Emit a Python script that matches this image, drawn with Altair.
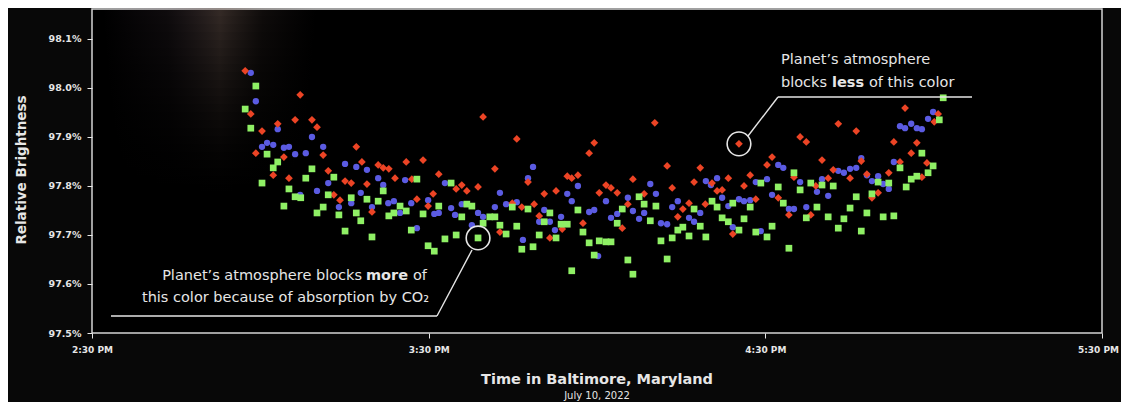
import altair as alt
import pandas as pd

# ---------------- data (minutes after 2:30 PM, relative brightness in %) ----------------
red_time = [27.3, 28.3, 29.2, 30.3, 32.3, 33.1, 34.2, 35.1, 36.2, 37.1,
            39.2, 40.1, 41.2, 42.1, 43.1, 44.2, 45.1, 46.2, 47.1, 48.1,
            49.0, 49.9, 51.0, 51.9, 52.9, 54.0, 56.0, 57.0, 57.9, 59.0,
            59.9, 60.8, 61.8, 64.9, 65.9, 66.8, 68.8, 69.7, 71.8, 72.7,
            74.9, 75.7, 76.6, 77.7, 78.8, 79.7, 80.6, 81.6, 82.7, 83.8,
            84.7, 85.5, 86.6, 87.5, 88.6, 89.5, 90.4, 91.6, 92.5, 93.6,
            94.5, 95.5, 96.4, 98.4, 100.3, 102.5, 103.4, 104.4, 105.3, 106.4,
            107.3, 108.4, 109.3, 110.5, 111.4, 112.3, 113.4, 114.2, 115.3, 116.2,
            117.3, 118.3, 120.3, 121.2, 122.3, 124.2, 125.1, 126.2, 127.3, 128.1,
            129.0, 130.1, 131.2, 132.1, 133.0, 135.1, 136.2, 137.1, 138.1, 139.0,
            140.1, 142.0, 142.9, 144.0, 144.9, 146.0, 147.0, 147.9, 148.8, 150.1,
            150.8]
red_value = [98.035, 97.947, 97.867, 97.912, 97.822, 97.927, 97.859, 97.816, 97.935, 97.986,
             97.935, 97.920, 97.863, 97.831, 97.782, 97.771, 97.810, 97.806, 97.880, 97.849,
             97.804, 97.747, 97.843, 97.837, 97.835, 97.816, 97.849, 97.814, 97.773, 97.853,
             97.759, 97.784, 97.824, 97.794, 97.802, 97.790, 97.798, 97.941, 97.835, 97.706,
             97.765, 97.896, 97.757, 97.808, 97.763, 97.739, 97.784, 97.694, 97.790, 97.712,
             97.820, 97.816, 97.822, 97.724, 97.867, 97.888, 97.786, 97.802, 97.796, 97.786,
             97.714, 97.763, 97.814, 97.784, 97.929, 97.841, 97.796, 97.737, 97.753, 97.765,
             97.808, 97.837, 97.763, 97.806, 97.790, 97.792, 97.816, 97.702, 97.886, 97.800,
             97.822, 97.773, 97.843, 97.859, 97.776, 97.741, 97.818, 97.900, 97.890, 97.741,
             97.800, 97.853, 97.816, 97.833, 97.927, 97.816, 97.912, 97.851, 97.824, 97.776,
             97.786, 97.827, 97.890, 97.849, 97.959, 97.867, 97.888, 97.818, 97.847, 97.931,
             97.947]

blue_time = [28.3, 29.2, 30.3, 31.2, 32.3, 33.1, 34.2, 35.1, 36.2, 37.1,
             38.1, 39.2, 40.1, 41.2, 42.1, 44.0, 45.1, 46.2, 47.1, 47.9,
             49.0, 49.9, 51.0, 51.9, 52.8, 53.8, 54.9, 55.8, 56.9, 57.9,
             59.9, 61.0, 61.8, 62.9, 64.0, 64.7, 65.9, 67.7, 68.8, 69.7,
             71.8, 72.7, 73.8, 75.7, 76.8, 77.7, 78.6, 79.7, 80.6, 81.6,
             82.5, 83.6, 84.7, 85.5, 86.6, 88.6, 89.5, 90.2, 91.6, 92.5,
             93.6, 95.5, 96.4, 97.5, 98.4, 99.5, 100.5, 101.4, 102.5, 103.4,
             104.4, 106.4, 107.3, 108.4, 109.4, 110.3, 111.4, 112.3, 113.4, 114.2,
             115.3, 116.2, 117.3, 118.3, 119.2, 120.3, 121.2, 122.3, 123.2, 124.2,
             125.1, 126.2, 127.3, 129.2, 130.1, 131.2, 133.0, 134.0, 135.1, 136.2,
             137.1, 138.1, 139.0, 140.1, 141.0, 142.0, 142.9, 144.0, 144.9, 146.0,
             147.0, 147.9, 149.0, 149.9]
blue_value = [98.031, 97.973, 97.880, 97.888, 97.884, 97.916, 97.878, 97.880, 97.865, 97.782,
              97.867, 97.900, 97.790, 97.880, 97.806, 97.757, 97.845, 97.765, 97.839, 97.786,
              97.833, 97.757, 97.816, 97.802, 97.765, 97.769, 97.745, 97.812, 97.765, 97.714,
              97.771, 97.743, 97.745, 97.806, 97.755, 97.741, 97.763, 97.720, 97.745, 97.737,
              97.757, 97.786, 97.763, 97.767, 97.690, 97.816, 97.839, 97.727, 97.751, 97.727,
              97.710, 97.737, 97.784, 97.769, 97.800, 97.747, 97.751, 97.657, 97.769, 97.735,
              97.743, 97.776, 97.749, 97.733, 97.745, 97.804, 97.784, 97.724, 97.722, 97.757,
              97.769, 97.735, 97.727, 97.745, 97.810, 97.802, 97.816, 97.776, 97.759, 97.716,
              97.773, 97.769, 97.771, 97.808, 97.708, 97.814, 97.782, 97.843, 97.837, 97.753,
              97.753, 97.808, 97.757, 97.788, 97.814, 97.780, 97.831, 97.827, 97.835, 97.837,
              97.857, 97.822, 97.810, 97.820, 97.804, 97.794, 97.849, 97.922, 97.918, 97.927,
              97.918, 97.916, 97.937, 97.951]

green_time = [27.3, 28.3, 29.2, 30.3, 31.2, 32.3, 33.1, 34.2, 35.1, 36.2,
              37.2, 38.1, 39.2, 40.1, 41.2, 42.1, 43.1, 44.0, 45.1, 46.2,
              47.1, 47.9, 49.0, 49.9, 51.0, 51.9, 52.9, 53.8, 54.9, 56.0,
              56.9, 57.9, 59.0, 59.9, 61.0, 61.8, 62.9, 64.0, 64.9, 65.9,
              66.8, 67.7, 68.8, 69.7, 70.9, 71.8, 72.7, 73.8, 74.9, 75.7,
              76.6, 77.7, 78.6, 79.7, 80.6, 81.6, 82.7, 83.6, 84.7, 85.5,
              86.6, 87.5, 88.6, 89.5, 90.4, 91.6, 92.5, 93.6, 94.5, 95.5,
              96.4, 97.5, 98.4, 99.5, 100.5, 101.4, 102.5, 103.4, 104.4, 105.3,
              106.4, 107.3, 108.4, 109.4, 110.5, 111.4, 112.3, 113.4, 114.2, 115.3,
              116.2, 117.3, 118.3, 119.2, 120.3, 121.2, 122.3, 123.2, 124.2, 125.1,
              126.2, 127.3, 128.1, 129.2, 130.1, 131.2, 132.1, 133.0, 134.0, 135.1,
              136.2, 137.1, 138.1, 139.0, 140.1, 141.0, 142.0, 142.9, 144.0, 145.1,
              146.0, 147.0, 147.9, 149.0, 149.9, 151.0, 151.7]
green_value = [97.957, 97.918, 98.004, 97.806, 97.865, 97.837, 97.849, 97.759, 97.794, 97.778,
               97.776, 97.816, 97.835, 97.745, 97.757, 97.782, 97.818, 97.741, 97.708, 97.776,
               97.745, 97.729, 97.773, 97.696, 97.769, 97.790, 97.739, 97.745, 97.759, 97.749,
               97.710, 97.814, 97.743, 97.678, 97.667, 97.759, 97.692, 97.806, 97.700, 97.737,
               97.763, 97.759, 97.694, 97.724, 97.737, 97.737, 97.720, 97.702, 97.757, 97.718,
               97.671, 97.753, 97.676, 97.700, 97.727, 97.745, 97.694, 97.722, 97.722, 97.627,
               97.751, 97.706, 97.684, 97.659, 97.688, 97.686, 97.686, 97.724, 97.753, 97.649,
               97.620, 97.778, 97.763, 97.729, 97.759, 97.688, 97.651, 97.694, 97.710, 97.716,
               97.698, 97.753, 97.718, 97.696, 97.769, 97.757, 97.735, 97.727, 97.765, 97.710,
               97.733, 97.757, 97.706, 97.806, 97.696, 97.718, 97.798, 97.765, 97.673, 97.827,
               97.792, 97.735, 97.806, 97.757, 97.802, 97.737, 97.800, 97.714, 97.733, 97.755,
               97.778, 97.708, 97.745, 97.784, 97.808, 97.737, 97.806, 97.739, 97.837, 97.798,
               97.814, 97.820, 97.867, 97.827, 97.841, 97.935, 97.980]

x_tick_values = [0, 60, 120, 180]
x_tick_labels = ["2:30 PM", "3:30 PM", "4:30 PM", "5:30 PM"]
y_tick_values = [97.5, 97.6, 97.7, 97.8, 97.9, 98.0, 98.1]

# circled points (time of the highlighted observation)
circled_red_time = 115.3
circled_green_time = 68.8

# ---------------- styling ----------------
W, H = 1010, 324
FONT = "DejaVu Sans"
RED, BLUE, GREEN = "#ec4425", "#5b5be2", "#8ff065"
WHITE = "#e6e6e6"
ANN = 14.5  # annotation font size

red_df = pd.DataFrame({"t": red_time, "b": red_value})
blue_df = pd.DataFrame({"t": blue_time, "b": blue_value})
green_df = pd.DataFrame({"t": green_time, "b": green_value})
circled_df = pd.concat([red_df[red_df.t == circled_red_time],
                        green_df[green_df.t == circled_green_time]])

x_label_expr = " : ".join(
    f"datum.value == {v} ? '{l}'" for v, l in zip(x_tick_values, x_tick_labels)
) + " : ''"

x_scale = alt.Scale(domain=[0, 180], nice=False, zero=False)
y_scale = alt.Scale(domain=[97.5, 98.1612], nice=False, zero=False)

x_axis = alt.Axis(values=x_tick_values, labelExpr=x_label_expr, title=None,
                  domain=False, grid=False, ticks=True, tickSize=5, tickColor=WHITE,
                  tickWidth=1, labelColor=WHITE, labelFont=FONT, labelFontSize=9,
                  labelFontWeight="bold", labelPadding=7, labelFlush=False,
                  labelOffset={"condition": {"test": f"datum.value == {x_tick_values[-1]}",
                                             "value": -4}, "value": 0})
y_axis = alt.Axis(values=y_tick_values, labelExpr="format(datum.value, '.1f') + '%'",
                  title=None, domain=False, grid=False, ticks=True, tickSize=5,
                  tickColor=WHITE, tickWidth=1, labelColor=WHITE, labelFont=FONT,
                  labelFontSize=9.5, labelFontWeight="bold", labelPadding=6)


def pts(df, shape, color, size):
    return alt.Chart(df).mark_point(shape=shape, filled=True, size=size, color=color,
                                    opacity=1, strokeWidth=0).encode(
        x=alt.X("t:Q", scale=x_scale, axis=x_axis),
        y=alt.Y("b:Q", scale=y_scale, axis=y_axis),
    )


one = pd.DataFrame({"k": [0]})

# faint glare in the upper-left of the picture: horizontal soft band,
# built from thin stripes whose opacity fades downward
glare_fill = alt.Gradient(
    gradient="linear", x1=0, y1=0, x2=1, y2=0,
    stops=[alt.GradientStop(offset=0.0, color="rgba(110,80,110,0)"),
           alt.GradientStop(offset=0.3, color="rgba(105,82,95,0.35)"),
           alt.GradientStop(offset=0.55, color="rgba(130,105,95,1)"),
           alt.GradientStop(offset=0.75, color="rgba(110,88,80,0.35)"),
           alt.GradientStop(offset=1.0, color="rgba(90,70,70,0)")])
glare_layers = []
n_stripes = 24
for i in range(n_stripes):
    y0 = -9 + i * 8
    fade = (1 - i / n_stripes) ** 1.6
    glare_layers.append(
        alt.Chart(one).mark_rect(color=glare_fill, opacity=0.42 * fade).encode(
            x=alt.value(10 + i * 0.6), x2=alt.value(225 - i * 0.6),
            y=alt.value(y0), y2=alt.value(y0 + 8))
    )

blue_layer = pts(blue_df, "circle", BLUE, 40)
red_layer = pts(red_df, "diamond", RED, 60)
green_layer = pts(green_df, "square", GREEN, 45)

circles = alt.Chart(circled_df).mark_point(shape="circle", filled=False, size=560,
                                           color=WHITE, strokeWidth=1.6, opacity=1).encode(
    x=alt.X("t:Q", scale=x_scale, axis=x_axis),
    y=alt.Y("b:Q", scale=y_scale, axis=y_axis),
)


def seg(x1, y1, x2, y2, color=WHITE, width=1.4):
    return alt.Chart(one).mark_rule(color=color, strokeWidth=width).encode(
        x=alt.value(x1), y=alt.value(y1), x2=alt.value(x2), y2=alt.value(y2))


def txt(s, x, y, size=ANN, weight="normal", align="left", angle=0, color=WHITE):
    kw = dict(font=FONT, fontSize=size, fontWeight=weight, align=align,
              baseline="alphabetic", color=color)
    if angle:
        kw.update(angle=angle, baseline="middle")
    return alt.Chart(one).mark_text(**kw).encode(
        x=alt.value(x), y=alt.value(y), text=alt.value(s))


annotations = [
    # upper-right annotation
    seg(686, 88, 880, 88),
    seg(686, 88, 656, 127),
    txt("Planet\u2019s atmosphere", 689, 55),
    txt("blocks", 689, 78),
    txt("less", 740, 78, weight="bold"),
    txt("of this color", 777, 78),
    # lower-left annotation
    seg(19, 307, 345, 307),
    seg(345, 307, 380, 241),
    txt("Planet\u2019s atmosphere blocks", 270, 271, align="right"),
    txt("more", 274, 271, weight="bold"),
    txt("of", 321, 271),
    txt("this color because of absorption by CO\u2082", 337, 293, align="right"),
    # titles
    txt("Relative Brightness", -70, 161, size=13.5, weight="bold", align="center", angle=270),
    txt("Time in Baltimore, Maryland", 505, 375, size=14.5, weight="bold", align="center"),
    txt("July 10, 2022", 505, 390, size=10, align="center"),
]

chart = alt.layer(
    *glare_layers, blue_layer, red_layer, green_layer, circles, *annotations
).properties(
    width=W, height=H,
    autosize=alt.AutoSizeParams(type="none"),
    padding={"left": 84, "top": 1, "right": 19, "bottom": 69},
    background="#080808",
).configure_view(
    stroke="#d4d4d4", strokeWidth=1.5, fill="#000000"
)

chart.save("out.html", embed_options={"renderer": "svg", "actions": False})
